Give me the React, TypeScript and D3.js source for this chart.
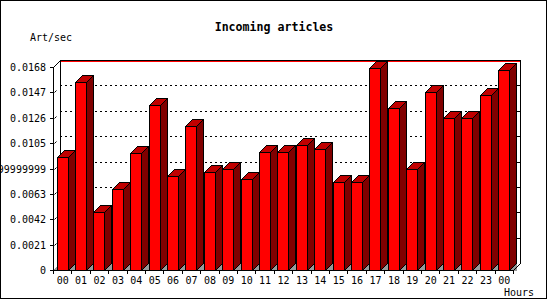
import React from "react";
import * as d3 from "d3";

const hours = ["00","01","02","03","04","05","06","07","08","09","10","11","12","13","14","15","16","17","18","19","20","21","22","23","00"];
const rates = [0.00938,0.01553,0.00478,0.00668,0.00971,0.01363,0.00778,0.01194,0.00808,0.00833,0.00751,0.00974,0.00974,0.01032,0.00999,0.00726,0.00726,0.01669,0.01338,0.00833,0.01471,0.01255,0.01255,0.01446,0.01655];
const yTickValues = [0,0.0021,0.0042,0.0063,0.0084,0.0105,0.0126,0.0147,0.0168];
const yTickLabels = ["0","0.0021","0.0042","0.0063","0.008399999999999999","0.0105","0.0126","0.0147","0.0168"];

const title = "Incoming articles";
const yTitle = "Art/sec";
const xTitle = "Hours";

const W = 550, H = 300;
const X0 = 53, X1 = 513, Y0 = 270, Y1 = 67;
const DX = 7, DY = 7;
const mono = "'DejaVu Sans Mono', 'Liberation Mono', monospace";

export default function App() {
  const x = d3.scaleBand<number>().domain(d3.range(hours.length)).range([X0, X1]).padding(0);
  const y = d3.scaleLinear().domain([0, 0.0168]).range([Y0, Y1]);
  const bw = x.bandwidth();
  const fw = 11;

  const bars = rates.map((v, i) => {
    const L = Math.round((x(i) as number) + bw * 0.2) + 0.5;
    const R = L + fw;
    const T = Math.round(y(v)) + 0.5;
    const B = Y0 + 0.5;
    return (
      <g key={i}>
        <polygon points={`${R},${B} ${R + DX},${B - DY} ${R + DX},${B} `} fill="#999999" />
        <rect x={L} y={T} width={fw} height={B - T} fill="#ff0000" stroke="#000" strokeWidth={1} />
        <polygon points={`${R},${T} ${R + DX},${T - DY} ${R + DX},${B - DY} ${R},${B}`} fill="#800000" stroke="#000" strokeWidth={1} strokeLinejoin="miter" />
        <polygon points={`${L},${T} ${L + DX},${T - DY} ${R + DX},${T - DY} ${R},${T}`} fill="#c00000" stroke="#000" strokeWidth={1} />
      </g>
    );
  });

  const backTop = Y1 - DY + 0.5;
  const backBottom = Y0 - DY + 0.5;

  return (
    <svg width={W} height={H} style={{ position: "absolute", left: 0, top: 0, display: "block" }} shapeRendering="crispEdges">
      <rect x={0} y={0} width={W} height={H} fill="#fff" />
      <rect x={0.5} y={0.5} width={546} height={297.5} fill="none" stroke="#000" />
      <text x={274} y={31} textAnchor="middle" fontFamily={mono} fontWeight="bold" fontSize={11.6} fill="#000">{title}</text>
      <text x={30} y={41} fontFamily={mono} fontSize={10} fill="#000">{yTitle}</text>

      {/* gridlines on back wall */}
      {yTickValues.slice(1, -1).map((t, i) => (
        <line key={i} x1={X0 + DX} x2={X1 + DX} y1={Math.round(y(t)) - DY + 0.5} y2={Math.round(y(t)) - DY + 0.5} stroke="#000" strokeDasharray="2,3" />
      ))}
      {/* back wall frame */}
      <line x1={X0 + DX + 0.5} x2={X0 + DX + 0.5} y1={backTop} y2={backBottom} stroke="#000" />
      <line x1={X1 + DX + 0.5} x2={X1 + DX + 0.5} y1={backTop} y2={backBottom} stroke="#000" />
      <line x1={X0 + DX} x2={X1 + DX + 1} y1={backTop} y2={backTop} stroke="#000" />
      <line x1={X0 + DX + 1} x2={X1 + DX} y1={backTop + 1} y2={backTop + 1} stroke="#ff0000" />
      <line x1={X0 + 0.5} y1={Y1 + 0.5} x2={X0 + DX + 0.5} y2={backTop} stroke="#000" shapeRendering="auto" />
      {/* right axis ticks */}
      {yTickValues.slice(1).map((t, i) => (
        <line key={i} x1={X1 + DX - 4} x2={X1 + DX + 1} y1={Math.round(y(t)) - DY + 0.5} y2={Math.round(y(t)) - DY + 0.5} stroke="#000" />
      ))}
      {/* floor */}
      <polygon points={`${X0},${Y0 + 0.5} ${X0 + DX},${backBottom} ${X0 + DX + 2},${backBottom} ${X0 + 3},${Y0 + 0.5}`} fill="#999999" />

      {bars}

      {/* front axes */}
      <line x1={X0 + 0.5} x2={X0 + 0.5} y1={Y1} y2={Y0 + 1} stroke="#000" />
      <line x1={X0} x2={X1 + 1} y1={Y0 + 0.5} y2={Y0 + 0.5} stroke="#000" />
      <line x1={X1 + 0.5} y1={Y0 + 0.5} x2={X1 + DX + 0.5} y2={backBottom} stroke="#000" shapeRendering="auto" />

      {yTickValues.map((t, i) => {
        const yy = Math.round(y(t)) + 0.5;
        return (
          <g key={i}>
            <line x1={X0 - 3} x2={X0 + 1} y1={yy} y2={yy} stroke="#000" />
            {i > 0 && i < yTickValues.length - 1 ? (
              <line x1={X0 + 1.5} y1={yy} x2={X0 + 3.5} y2={yy - 2} stroke="#000" shapeRendering="auto" />
            ) : null}
            <text x={46} y={yy + 3.5} textAnchor="end" fontFamily={mono} fontSize={10} fill="#000">{yTickLabels[i]}</text>
          </g>
        );
      })}

      {d3.range(hours.length + 1).map((i) => {
        const xx = Math.round(X0 + i * bw) + 0.5;
        return <line key={i} x1={xx} x2={xx} y1={Y0} y2={Y0 + 4} stroke="#000" />;
      })}
      {hours.map((h, i) => (
        <text key={i} x={(x(i) as number) + bw / 2 + 0.5} y={284} textAnchor="middle" fontFamily={mono} fontSize={10} fill="#000">{h}</text>
      ))}
      <text x={504} y={296} fontFamily={mono} fontSize={10} fill="#000">{xTitle}</text>
    </svg>
  );
}
